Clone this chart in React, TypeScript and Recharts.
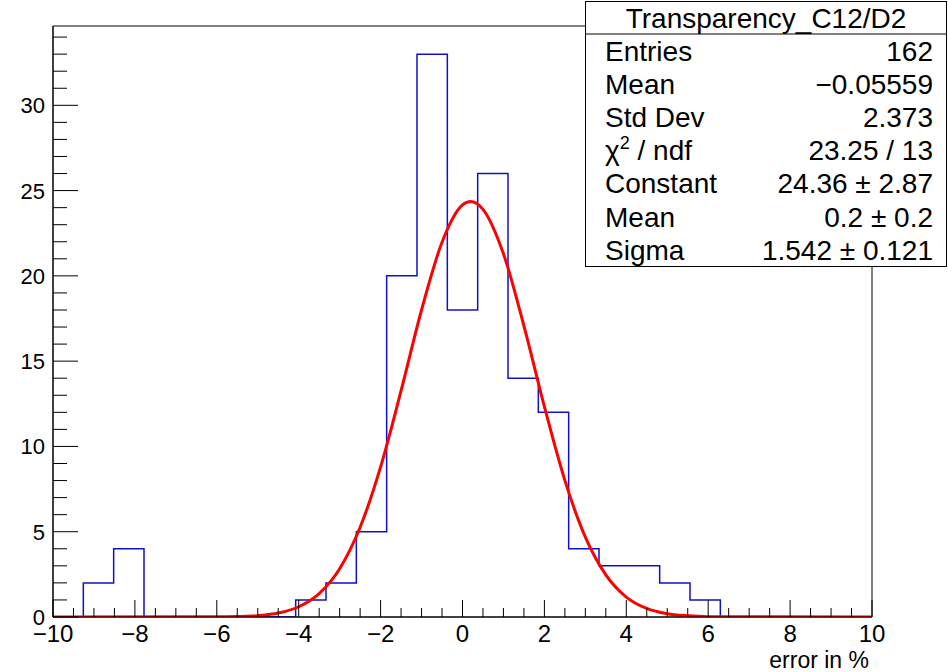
import { LineChart, Line, XAxis, YAxis, ReferenceArea } from 'recharts';

// histogram: 27 bins between -10 and 10
const histLow = -10;
const histHigh = 10;
const binCounts = [0, 2, 4, 0, 0, 0, 0, 0, 1, 2, 5, 20, 33, 18, 26, 14, 12, 4, 3, 3, 2, 1, 0, 0, 0, 0, 0];

// gaus fit curve
const fitX = [-10, -6, -5.5, -5, -4.5, -4, -3.5, -3, -2.5, -2, -1.5, -1, -0.5, 0, 0.2, 0.5, 1, 1.5, 2, 2.5, 3, 3.5, 4, 4.5, 5, 5.5, 6, 10];
const fitY = [0, 0.01, 0.03, 0.08, 0.23, 0.6, 1.37, 2.83, 5.26, 8.8, 13.27, 18.0, 21.97, 24.16, 24.36, 23.9, 21.29, 17.07, 12.33, 8.01, 4.68, 2.47, 1.17, 0.5, 0.19, 0.07, 0.02, 0];

const xMajorTicks = [-10, -8, -6, -4, -2, 0, 2, 4, 6, 8, 10];
const yMajorTicks = [0, 5, 10, 15, 20, 25, 30];
const yMax = 34.65;

const statsTitle = 'Transparency_C12/D2';
const statsLabels = ['Entries', 'Mean', 'Std Dev', 'CHI2', 'Constant', 'Mean', 'Sigma'];
const statsValues = ['162', '\u22120.05559', '2.373', '23.25 / 13', '24.36 \u00b1 2.87', '0.2 \u00b1 0.2', '1.542 \u00b1 0.121'];

const FONT = '"Liberation Sans", Arial, Helvetica, sans-serif';

const binWidth = (histHigh - histLow) / binCounts.length;
const histData = binCounts
  .map((c, i) => ({ x: histLow + i * binWidth, y: c }))
  .concat([{ x: histHigh, y: 0 }]);
const fitData = fitX.map((x, i) => ({ x, y: fitY[i] }));

const xTicks: number[] = [];
for (let v = -10; v <= 10.001; v += 0.5) xTicks.push(Math.round(v * 10) / 10);
const yTicks: number[] = [];
for (let v = 0; v <= 34; v += 1) yTicks.push(v);

const fmt = (v: number) => (v < 0 ? '\u2212' + Math.abs(v) : String(v));

const XTick = (props: any) => {
  const { x, y, payload } = props;
  const v = payload.value;
  const major = xMajorTicks.includes(v);
  return (
    <g>
      <line x1={x} y1={y} x2={x} y2={y - (major ? 17 : 9)} stroke="#000" strokeWidth={1} />
      {major && (
        <text x={x} y={y + 25} textAnchor="middle" fontSize={24} fontFamily={FONT} fill="#000">
          {fmt(v)}
        </text>
      )}
    </g>
  );
};

const YTick = (props: any) => {
  const { x, y, payload } = props;
  const v = payload.value;
  const major = yMajorTicks.includes(v);
  return (
    <g>
      <line x1={x} y1={y} x2={x + (major ? 25 : 14)} y2={y} stroke="#000" strokeWidth={1} />
      {major && (
        <text x={x - 8} y={y + 8} textAnchor="end" fontSize={22} fontFamily={FONT} fill="#000">
          {v}
        </text>
      )}
    </g>
  );
};

function StatsBox() {
  const left = 585.5;
  const top = 1.5;
  const w = 361;
  const h = 265;
  const sep = 34;
  const rowH = (top + h - sep) / statsLabels.length;
  return (
    <svg width={948} height={672} style={{ position: 'absolute', left: 0, top: 0, pointerEvents: 'none' }}>
      <rect x={left} y={top} width={w} height={h} fill="#fff" stroke="#000" strokeWidth={1} />
      <line x1={left} y1={sep} x2={left + w} y2={sep} stroke="#000" strokeWidth={1} />
      <text x={left + w / 2} y={28} textAnchor="middle" fontSize={28} fontFamily={FONT} fill="#000">
        {statsTitle}
      </text>
      {statsLabels.map((lab, i) => {
        const base = sep + rowH * (i + 0.5) + 10;
        return (
          <g key={i}>
            {lab === 'CHI2' ? (
              <text x={605} y={base} fontSize={28} fontFamily={FONT} fill="#000">
                {'\u03c7'}
                <tspan dy={-11} fontSize={18}>2</tspan>
                <tspan dy={11}>{' / ndf'}</tspan>
              </text>
            ) : (
              <text x={605} y={base} fontSize={28} fontFamily={FONT} fill="#000">
                {lab}
              </text>
            )}
            <text x={933} y={base} textAnchor="end" fontSize={28} fontFamily={FONT} fill="#000">
              {statsValues[i]}
            </text>
          </g>
        );
      })}
    </svg>
  );
}

export default function App() {
  return (
    <div style={{ position: 'absolute', left: 0, top: 0, width: 948, height: 672, background: '#fff' }}>
      <LineChart width={948} height={672} margin={{ top: 26, right: 76, bottom: 0, left: 0 }}>
        <XAxis
          type="number"
          dataKey="x"
          domain={[histLow, histHigh]}
          ticks={xTicks}
          interval={0}
          tick={<XTick />}
          tickLine={false}
          tickSize={0}
          tickMargin={0}
          height={55}
          axisLine={{ stroke: '#000', strokeWidth: 1 }}
          allowDataOverflow
        />
        <YAxis
          type="number"
          dataKey="y"
          domain={[0, yMax]}
          ticks={yTicks}
          interval={0}
          tick={<YTick />}
          tickLine={false}
          tickSize={0}
          tickMargin={0}
          width={53}
          axisLine={{ stroke: '#000', strokeWidth: 1 }}
          allowDataOverflow
        />
        <ReferenceArea x1={histLow} x2={histHigh} y1={0} y2={yMax} fill="none" stroke="#000" strokeWidth={1} />
        <Line
          data={histData}
          dataKey="y"
          type="stepAfter"
          stroke="#1010cc"
          strokeWidth={1.5}
          dot={false}
          isAnimationActive={false}
        />
        <Line
          data={fitData}
          dataKey="y"
          type="monotone"
          stroke="#ff0000"
          strokeWidth={3}
          dot={false}
          isAnimationActive={false}
        />
      </LineChart>
      <StatsBox />
      <svg width={948} height={672} style={{ position: 'absolute', left: 0, top: 0, pointerEvents: 'none' }}>
        <text x={869} y={668} textAnchor="end" fontSize={23} fontFamily={FONT} fill="#000">
          error in %
        </text>
      </svg>
    </div>
  );
}
